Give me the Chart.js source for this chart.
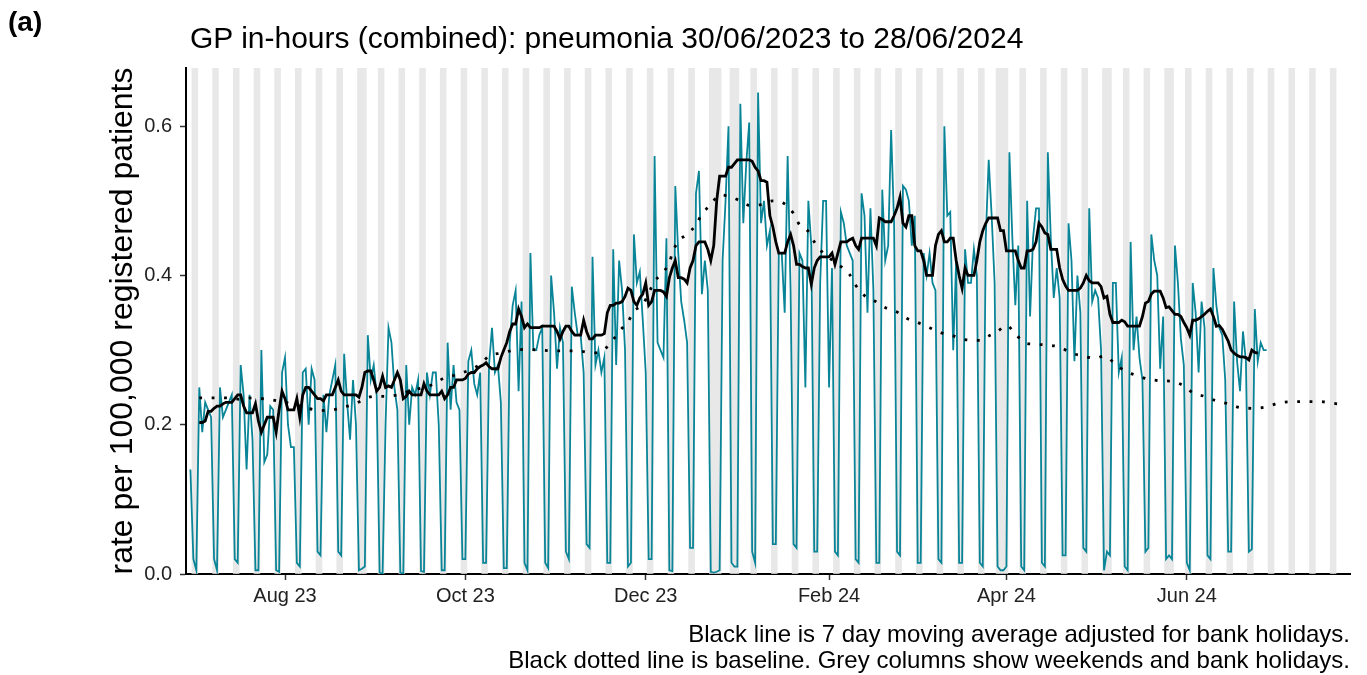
<!DOCTYPE html>
<html>
<head>
<meta charset="utf-8">
<script src="https://cdn.jsdelivr.net/npm/chart.js@4.4.1/dist/chart.umd.min.js"></script>
<style>
  html, body { margin: 0; padding: 0; background: #fff; }
  #wrap { position: relative; width: 1367px; height: 675px; font-family: "Liberation Sans", Arial, sans-serif; }
  #wrap canvas { position: absolute; left: 0; top: 0; }
  .txt { position: absolute; white-space: nowrap; line-height: 1; color: #000; }
  #panel { left: 8px; top: 8px; font-size: 28px; font-weight: bold; }
  #title { left: 190px; top: 23px; font-size: 30px; }
  #caption { right: 17px; top: 621px; font-size: 24px; line-height: 26px; text-align: right; }
</style>
</head>
<body>
<div id="wrap">
  <canvas id="chart" width="1367" height="675"></canvas>
  <div class="txt" id="panel">(a)</div>
  <div class="txt" id="title">GP in-hours (combined): pneumonia 30/06/2023 to 28/06/2024</div>
  <div class="txt" id="caption">Black line is 7 day moving average adjusted for bank holidays.<br>Black dotted line is baseline. Grey columns show weekends and bank holidays.</div>
</div>
<script>
// day 0 = 30/06/2023 (Friday)
const startDate = '2023-06-30';

// daily rate, from 30/06 then one row per week (Mon..Sun)
const dailyRate = [
  0.14, 0.02, 0.005,
  0.25, 0.19, 0.23, 0.22, 0.21, 0.02, 0.005,
  0.25, 0.21, 0.22, 0.23, 0.24, 0.02, 0.015,
  0.28, 0.24, 0.14, 0.24, 0.18, 0.005, 0.005,
  0.30, 0.15, 0.16, 0.225, 0.22, 0.005, 0.003,
  0.27, 0.29, 0.20, 0.17, 0.17, 0.015, 0.01,
  0.27, 0.275, 0.2, 0.275, 0.26, 0.03, 0.025,
  0.24, 0.19, 0.24, 0.26, 0.28, 0.03, 0.025,
  0.295, 0.23, 0.18, 0.26, 0.2, 0.005, 0.007,
  0.01, 0.32, 0.26, 0.28, 0.24, 0.002, 0.0,
  0.2, 0.33, 0.31, 0.25, 0.22, 0.002, 0.0,
  0.28, 0.2, 0.25, 0.24, 0.26, 0.004, 0.003,
  0.27, 0.24, 0.27, 0.27, 0.2, 0.005, 0.005,
  0.31, 0.22, 0.28, 0.23, 0.22, 0.02, 0.02,
  0.285, 0.3, 0.255, 0.24, 0.27, 0.015, 0.015,
  0.28, 0.33, 0.27, 0.28, 0.23, 0.008, 0.008,
  0.31, 0.36, 0.38, 0.245, 0.365, 0.015, 0.005,
  0.43, 0.3, 0.3, 0.32, 0.33, 0.015, 0.008,
  0.4, 0.35, 0.275, 0.33, 0.31, 0.03, 0.02,
  0.385, 0.35, 0.32, 0.32, 0.27, 0.04, 0.035,
  0.425, 0.28, 0.3, 0.27, 0.29, 0.015, 0.015,
  0.435, 0.28, 0.42, 0.38, 0.3, 0.01, 0.015,
  0.455, 0.39, 0.405, 0.34, 0.27, 0.02, 0.02,
  0.56, 0.31, 0.3, 0.29, 0.45, 0.005, 0.004,
  0.52, 0.43, 0.365, 0.34, 0.31, 0.035, 0.035,
  0.51, 0.54, 0.375, 0.42, 0.38, 0.003, 0.002,
  0.003, 0.005, 0.42, 0.5, 0.6, 0.015, 0.01,
  0.01, 0.63, 0.47, 0.55, 0.605, 0.03, 0.015,
  0.645, 0.47, 0.5, 0.44, 0.46, 0.04, 0.04,
  0.43, 0.43, 0.35, 0.56, 0.38, 0.04, 0.035,
  0.43, 0.42, 0.25, 0.5, 0.44, 0.03, 0.03,
  0.39, 0.5, 0.5, 0.25, 0.41, 0.03, 0.025,
  0.485, 0.47, 0.44, 0.43, 0.42, 0.02, 0.015,
  0.51, 0.48, 0.35, 0.49, 0.38, 0.015, 0.015,
  0.515, 0.42, 0.44, 0.595, 0.47, 0.03, 0.025,
  0.52, 0.515, 0.5, 0.44, 0.48, 0.015, 0.015,
  0.43, 0.4, 0.43, 0.39, 0.38, 0.02, 0.015,
  0.6, 0.48, 0.485, 0.3, 0.42, 0.015, 0.015,
  0.435, 0.39, 0.39, 0.435, 0.4, 0.015, 0.01,
  0.45, 0.555, 0.48, 0.39, 0.01, 0.005, 0.005,
  0.01, 0.565, 0.45, 0.36, 0.44, 0.01, 0.005,
  0.5, 0.345, 0.45, 0.49, 0.49, 0.015, 0.01,
  0.565, 0.45, 0.37, 0.41, 0.37, 0.025, 0.025,
  0.47, 0.42, 0.285, 0.4, 0.35, 0.035, 0.03,
  0.49, 0.365, 0.38, 0.37, 0.3, 0.005, 0.03,
  0.025, 0.39, 0.39, 0.27, 0.29, 0.01, 0.005,
  0.445, 0.3, 0.345, 0.29, 0.26, 0.03, 0.035,
  0.455, 0.42, 0.4, 0.275, 0.345, 0.02, 0.025,
  0.02, 0.44, 0.39, 0.315, 0.28, 0.015, 0.005,
  0.39, 0.35, 0.27, 0.365, 0.33, 0.025, 0.02,
  0.41, 0.36, 0.33, 0.32, 0.26, 0.03, 0.03,
  0.365, 0.285, 0.245, 0.325, 0.285, 0.03, 0.033,
  0.355, 0.285, 0.31, 0.3, 0.3
];

// 7 day moving average, day 3 to day 361
const maFirstDay = 3;
const movingAvg = [
  0.203, 0.203, 0.205, 0.218, 0.218, 0.222, 0.225,
  0.225, 0.228, 0.23, 0.23, 0.23, 0.235, 0.24,
  0.24, 0.225, 0.216, 0.216, 0.216, 0.228, 0.205,
  0.19, 0.2, 0.21, 0.21, 0.21, 0.19, 0.22,
  0.245, 0.235, 0.22, 0.22, 0.22, 0.235, 0.21,
  0.24, 0.25, 0.25, 0.245, 0.24, 0.235, 0.235,
  0.232, 0.24, 0.24, 0.24, 0.25, 0.26, 0.245,
  0.24, 0.24, 0.24, 0.24, 0.24, 0.237, 0.25,
  0.27, 0.272, 0.272, 0.26, 0.245, 0.25, 0.265,
  0.25, 0.252, 0.25, 0.26, 0.27, 0.26, 0.235,
  0.238, 0.245, 0.24, 0.24, 0.24, 0.24, 0.255,
  0.245, 0.24, 0.24, 0.24, 0.24, 0.245, 0.235,
  0.24, 0.25, 0.25, 0.26, 0.26, 0.26, 0.262,
  0.268, 0.27, 0.27, 0.275, 0.278, 0.28, 0.283,
  0.278, 0.275, 0.275, 0.275, 0.29, 0.3, 0.31,
  0.325, 0.335, 0.335, 0.355, 0.345, 0.33, 0.335,
  0.33, 0.33, 0.33, 0.33, 0.332, 0.332, 0.332,
  0.332, 0.332, 0.325, 0.315, 0.325, 0.332, 0.332,
  0.325, 0.32, 0.32, 0.32, 0.34, 0.325, 0.315,
  0.315, 0.32, 0.32, 0.32, 0.322, 0.35, 0.36,
  0.36, 0.363, 0.363, 0.365, 0.372, 0.383, 0.38,
  0.365, 0.36, 0.37, 0.375, 0.39, 0.36, 0.365,
  0.38, 0.38, 0.38, 0.378, 0.372, 0.397, 0.41,
  0.42, 0.397, 0.397, 0.395, 0.39, 0.41, 0.42,
  0.44, 0.445, 0.445, 0.445, 0.435, 0.42, 0.44,
  0.5, 0.533, 0.533, 0.533, 0.545, 0.545, 0.55,
  0.555, 0.555, 0.555, 0.555, 0.555, 0.553, 0.545,
  0.54, 0.527, 0.527, 0.525, 0.48, 0.465, 0.445,
  0.43, 0.43, 0.43, 0.445, 0.455, 0.44, 0.415,
  0.415, 0.412, 0.41, 0.41, 0.388, 0.41, 0.42,
  0.425, 0.425, 0.425, 0.425, 0.43, 0.415, 0.43,
  0.445, 0.445, 0.445, 0.448, 0.45, 0.44, 0.435,
  0.45, 0.45, 0.45, 0.45, 0.45, 0.44, 0.477,
  0.475, 0.472, 0.472, 0.472, 0.48, 0.49, 0.505,
  0.47, 0.465, 0.48, 0.48, 0.44, 0.433, 0.433,
  0.42, 0.4, 0.4, 0.4, 0.44, 0.455, 0.46,
  0.445, 0.445, 0.45, 0.45, 0.42, 0.4, 0.383,
  0.41, 0.4, 0.4, 0.4, 0.42, 0.445, 0.46,
  0.47, 0.477, 0.477, 0.477, 0.477, 0.46, 0.46,
  0.433, 0.433, 0.433, 0.433, 0.42, 0.41, 0.41,
  0.433, 0.433, 0.435, 0.445, 0.47, 0.465, 0.457,
  0.455, 0.435, 0.435, 0.435, 0.41, 0.395, 0.386,
  0.38, 0.38, 0.38, 0.38, 0.383, 0.39, 0.4,
  0.393, 0.39, 0.39, 0.39, 0.385, 0.37, 0.372,
  0.348, 0.337, 0.337, 0.337, 0.34, 0.338, 0.332,
  0.332, 0.332, 0.332, 0.332, 0.345, 0.363, 0.365,
  0.375, 0.379, 0.379, 0.379, 0.37, 0.357, 0.358,
  0.353, 0.348, 0.348, 0.345, 0.337, 0.33, 0.32,
  0.34, 0.34, 0.342, 0.345, 0.348, 0.352, 0.355,
  0.345, 0.332, 0.333, 0.328, 0.32, 0.312, 0.3,
  0.296, 0.293, 0.291, 0.291, 0.29, 0.287, 0.3,
  0.297, 0.296
];

// baseline (dotted), read at roughly 4 day steps
const baselineDay = [3, 8, 13, 17, 21, 26, 32, 38, 42, 47, 51, 55, 62, 66, 70, 74, 82, 86, 90, 98,
  101, 105, 110, 114, 118, 123, 127, 131, 136, 140, 143, 145, 148, 150, 153, 157, 159, 162, 163, 165,
  168, 171, 173, 176, 179, 182, 186, 189, 193, 197, 201, 204, 206, 209, 211, 214, 218, 223, 225, 228,
  231, 235, 239, 242, 246, 250, 254, 258, 262, 267, 270, 273, 276, 279, 282, 285, 289, 294, 298, 302,
  306, 309, 313, 316, 320, 324, 328, 332, 336, 339, 343, 347, 351, 355, 360, 364, 368, 373, 377, 382,
  386, 390];
const baselineRate = [0.236, 0.236, 0.236, 0.234, 0.236, 0.234, 0.23, 0.224, 0.22, 0.219, 0.223, 0.227, 0.238, 0.238, 0.24, 0.245, 0.254, 0.263, 0.267, 0.281,
  0.292, 0.296, 0.3, 0.301, 0.3, 0.299, 0.299, 0.299, 0.296, 0.301, 0.314, 0.325, 0.338, 0.352, 0.361, 0.392, 0.401, 0.417, 0.43, 0.446,
  0.455, 0.468, 0.482, 0.495, 0.508, 0.506, 0.5, 0.494, 0.495, 0.5, 0.496, 0.483, 0.468, 0.459, 0.445, 0.43, 0.418, 0.401, 0.387, 0.373,
  0.367, 0.357, 0.351, 0.343, 0.337, 0.33, 0.323, 0.319, 0.314, 0.313, 0.319, 0.325, 0.333, 0.322, 0.31, 0.308, 0.307, 0.304, 0.296, 0.292,
  0.289, 0.292, 0.281, 0.272, 0.266, 0.261, 0.259, 0.258, 0.252, 0.243, 0.238, 0.232, 0.228, 0.223, 0.222, 0.224, 0.229, 0.231, 0.231, 0.231,
  0.229, 0.227];

const bankHolidays = ['2023-08-28', '2023-12-25', '2023-12-26', '2024-01-01', '2024-03-29', '2024-04-01', '2024-05-06', '2024-05-27'];

const xTickDates = ['2023-08-01', '2023-10-01', '2023-12-01', '2024-02-01', '2024-04-01', '2024-06-01'];
const xTickLabels = ['Aug 23', 'Oct 23', 'Dec 23', 'Feb 24', 'Apr 24', 'Jun 24'];
const yTicks = [0, 0.2, 0.4, 0.6];

const X_MIN = -1.49;
const X_MAX = 392.2;
const Y_MAX = 0.678;

function dayIndex(iso) {
  const [y, m, d] = iso.split('-').map(Number);
  const [y0, m0, d0] = startDate.split('-').map(Number);
  return Math.round((Date.UTC(y, m - 1, d) - Date.UTC(y0, m0 - 1, d0)) / 86400000);
}

// grey columns: weekends plus bank holidays
const holidayIdx = bankHolidays.map(dayIndex);
const greyDays = [];
for (let d = Math.ceil(X_MIN); d <= Math.floor(X_MAX); d++) {
  const [y0, m0, d0] = startDate.split('-').map(Number);
  const wd = new Date(Date.UTC(y0, m0 - 1, d0 + d)).getUTCDay();
  if (wd === 0 || wd === 6 || holidayIdx.includes(d)) greyDays.push(d);
}

const xTickDays = xTickDates.map(dayIndex);

new Chart(document.getElementById('chart'), {
  type: 'line',
  data: {
    datasets: [
      {
        label: 'Moving average',
        data: movingAvg.map((v, i) => ({ x: maFirstDay + i, y: v })),
        borderColor: '#000000',
        borderWidth: 2.8,
        pointRadius: 0,
        tension: 0,
        order: 1
      },
      {
        label: 'Baseline',
        data: baselineRate.map((v, i) => ({ x: baselineDay[i], y: v })),
        borderColor: '#000000',
        borderWidth: 2.8,
        borderDash: [2.8, 9.6],
        pointRadius: 0,
        cubicInterpolationMode: 'monotone',
        order: 2
      },
      {
        label: 'Daily rate',
        data: dailyRate.map((v, i) => ({ x: i, y: v })),
        borderColor: '#0a8598',
        borderWidth: 1.8,
        pointRadius: 0,
        tension: 0,
        order: 3
      },
      {
        type: 'bar',
        label: 'Weekends and bank holidays',
        data: greyDays.map(d => ({ x: d, y: Y_MAX })),
        backgroundColor: '#e8e8e8',
        borderWidth: 0,
        barPercentage: 1,
        categoryPercentage: 1,
        grouped: false,
        order: 4
      }
    ]
  },
  options: {
    responsive: false,
    animation: false,
    layout: { padding: { left: 100, top: 68, right: 17, bottom: 0 } },
    plugins: { legend: { display: false }, tooltip: { enabled: false } },
    scales: {
      x: {
        type: 'linear',
        min: X_MIN,
        max: X_MAX,
        offset: false,
        afterBuildTicks: s => { s.ticks = xTickDays.map(v => ({ value: v })); },
        afterFit: s => { s.height = 101; },
        ticks: {
          autoSkip: false,
          maxRotation: 0,
          padding: 4,
          color: '#222222',
          font: { family: 'Liberation Sans', size: 20 },
          callback: (v, i) => xTickLabels[i]
        },
        grid: { drawOnChartArea: false, offset: false, tickLength: 6, tickColor: '#333333', tickWidth: 1.5 },
        border: { display: true, color: '#000000', width: 2 }
      },
      y: {
        min: 0,
        max: Y_MAX,
        afterBuildTicks: s => { s.ticks = yTicks.map(v => ({ value: v })); },
        afterFit: s => { s.width = 86; },
        ticks: {
          padding: 8,
          color: '#222222',
          font: { family: 'Liberation Sans', size: 20 },
          callback: v => v.toFixed(1)
        },
        grid: { drawOnChartArea: false, tickLength: 6, tickColor: '#333333', tickWidth: 1.5 },
        border: { display: true, color: '#000000', width: 2 },
        title: {
          display: true,
          text: 'rate per 100,000 registered patients',
          color: '#000000',
          font: { family: 'Liberation Sans', size: 32 },
          padding: { top: 4, bottom: 0 }
        }
      }
    }
  }
});
</script>
</body>
</html>
